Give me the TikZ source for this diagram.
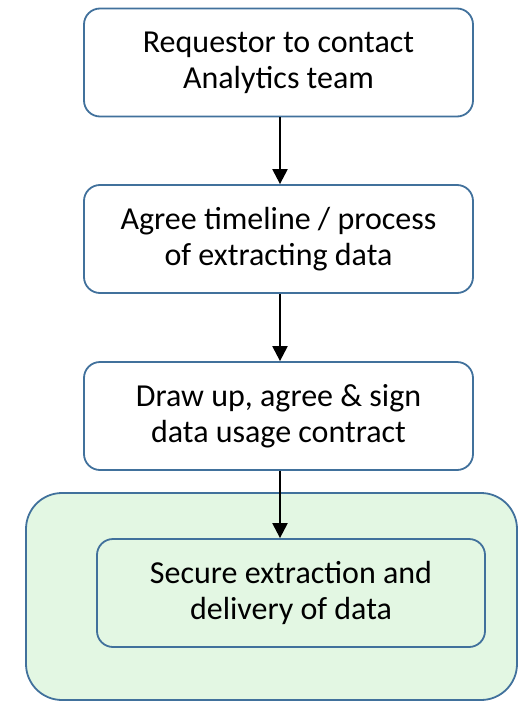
\documentclass[tikz,border=0pt]{standalone}
\usepackage{fontspec}
\setmainfont{Carlito}
\usetikzlibrary{arrows.meta}
\definecolor{edgeblue}{HTML}{41719C}
\definecolor{softgreen}{HTML}{E3F7E3}
\tikzset{
  x=1pt, y=-1pt,
  flowbox/.style={draw=edgeblue, line width=1.8pt, rounded corners=16pt, fill=white,
    minimum width=389pt, minimum height=108pt, align=center, inner sep=0pt,
    font=\fontsize{32}{36}\selectfont},
  greenbox/.style={flowbox, fill=softgreen, minimum width=388pt},
  flowarrow/.style={draw=black, line width=2.3pt, -{Triangle[width=15pt,length=15pt]}},
}
\begin{document}
\begin{tikzpicture}
\useasboundingbox (0,0) rectangle (518,701);
\node[draw=edgeblue, line width=1.8pt, fill=softgreen, rounded corners=36pt,
  minimum width=491pt, minimum height=207pt, inner sep=0pt] (outer) at (271.5,596.5) {};
\node[flowbox] (a) at (278.5,62.5) {Requestor to contact\\Analytics team};
\node[flowbox] (b) at (278.5,239) {Agree timeline / process\\of extracting data};
\node[flowbox] (c) at (278.5,416) {Draw up, agree \& sign\\data usage contract};
\node[greenbox] (d) at (291,593) {Secure extraction and\\delivery of data};
\draw[flowarrow] (a.south -| 280,0) -- (b.north -| 280,0);
\draw[flowarrow] (b.south -| 280,0) -- (c.north -| 280,0);
\draw[flowarrow] (c.south -| 280,0) -- (d.north -| 280,0);
\end{tikzpicture}
\end{document}
